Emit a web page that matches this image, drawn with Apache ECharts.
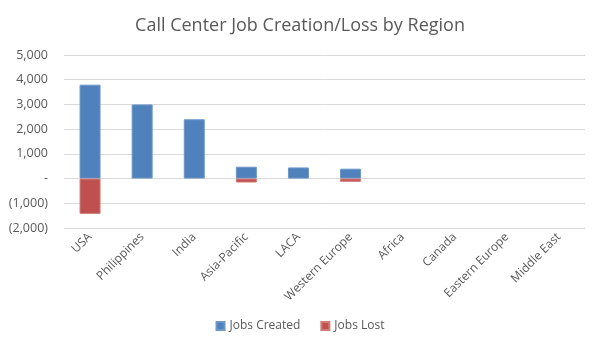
<!DOCTYPE html>
<html>
<head>
<meta charset="utf-8">
<script src="https://cdn.jsdelivr.net/npm/echarts@6/dist/echarts.min.js"></script>
<style>
  html, body { margin: 0; padding: 0; background: #fff; }
  #chart { width: 600px; height: 353px; }
</style>
</head>
<body>
<div id="chart"></div>
<script>
const regions = ['USA', 'Philippines', 'India', 'Asia-Pacific', 'LACA', 'Western Europe', 'Africa', 'Canada', 'Eastern Europe', 'Middle East']
const jobsCreated = [3800, 3000, 2400, 480, 450, 400, 0, 0, 0, 0]
const jobsLost = [-1430, 0, 0, -160, 0, -130, 0, 0, 0, 0]

const textColor = '#595959'
const fontFamily = '"Open Sans", "Liberation Sans", sans-serif'

function fmtValue(v) {
  if (v === 0) return '-'
  const s = Math.abs(v).toLocaleString('en-US')
  return v < 0 ? '(' + s + ')' : s
}

// zero values draw nothing (otherwise the border shows as a thin line)
function noZero(arr) {
  return arr.map(v => (v === 0 ? null : v))
}

const chart = echarts.init(document.getElementById('chart'))
chart.setOption({
  animation: false,
  textStyle: { fontFamily: fontFamily },
  title: {
    text: 'Call Center Job Creation/Loss by Region',
    left: 'center',
    top: 12,
    textStyle: { color: textColor, fontSize: 18, fontWeight: 'normal', fontFamily: fontFamily }
  },
  legend: {
    bottom: 16,
    left: 'center',
    itemWidth: 8,
    itemHeight: 8,
    itemGap: 20,
    icon: 'rect',
    textStyle: { color: textColor, fontSize: 12 },
    data: ['Jobs Created', 'Jobs Lost']
  },
  grid: {
    left: 64,
    right: 15,
    top: 55,
    bottom: 125
  },
  xAxis: {
    type: 'category',
    data: regions,
    axisLine: { show: false, onZero: false },
    axisTick: { show: false },
    axisLabel: {
      rotate: 45,
      interval: 0,
      color: textColor,
      fontSize: 12,
      margin: 7
    }
  },
  yAxis: {
    type: 'value',
    min: -2000,
    max: 5000,
    interval: 1000,
    axisLine: { show: false },
    axisTick: { show: false },
    splitLine: { lineStyle: { color: '#D9D9D9', width: 1 } },
    axisLabel: {
      color: textColor,
      fontSize: 12.5,
      margin: 16,
      formatter: fmtValue
    }
  },
  series: [
    {
      name: 'Jobs Created',
      type: 'bar',
      stack: 'jobs',
      barWidth: 21,
      data: noZero(jobsCreated),
      itemStyle: { color: '#4F81BD', borderColor: '#6E97C9', borderWidth: 1 }
    },
    {
      name: 'Jobs Lost',
      type: 'bar',
      stack: 'jobs',
      barWidth: 21,
      data: noZero(jobsLost),
      itemStyle: { color: '#C0504D', borderColor: '#D07A78', borderWidth: 1 }
    }
  ]
})
</script>
</body>
</html>
